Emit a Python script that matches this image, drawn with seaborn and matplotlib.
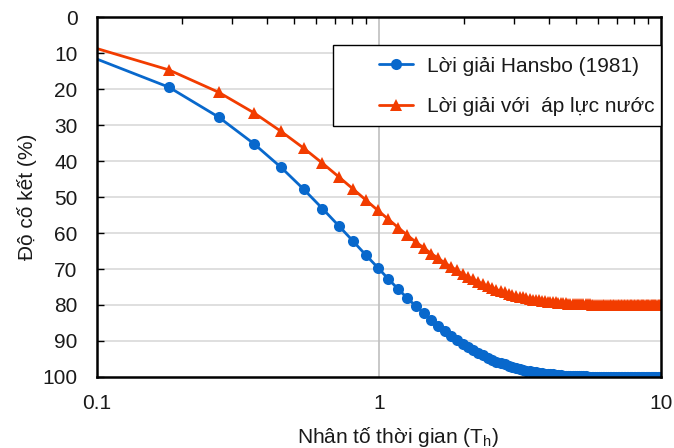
import numpy as np
import pandas as pd
import matplotlib
matplotlib.use("Agg")
import matplotlib.pyplot as plt
import seaborn as sns
from matplotlib.ticker import FixedLocator, LogLocator, NullFormatter
from matplotlib.patches import Rectangle

# Time factor values (Th) at each marker
th = [round(0.09 * k, 2) for k in range(1, 112)]

hansbo = [10.3, 19.5, 27.8, 35.2, 41.8, 47.8, 53.2, 58.0, 62.3, 66.2,
          69.6, 72.8, 75.6, 78.1, 80.3, 82.3, 84.2, 85.8, 87.2, 88.5,
          89.7, 90.8, 91.7, 92.6, 93.3, 94.0, 94.6, 95.2, 95.7, 96.1,
          96.5, 96.9, 97.2, 97.5, 97.7, 98.0, 98.2, 98.4, 98.5, 98.7,
          98.8, 98.9, 99.1, 99.2, 99.2, 99.3, 99.4, 99.5, 99.5, 99.6,
          99.6, 99.6, 99.7, 99.7, 99.7, 99.8, 99.8, 99.8, 99.8, 99.8,
          99.9, 99.9, 99.9, 99.9, 99.9, 99.9, 99.9, 99.9, 99.9, 99.9,
          99.9, 99.9, 100.0, 100.0, 100.0, 100.0, 100.0, 100.0, 100.0, 100.0,
          100.0, 100.0, 100.0, 100.0, 100.0, 100.0, 100.0, 100.0, 100.0, 100.0,
          100.0, 100.0, 100.0, 100.0, 100.0, 100.0, 100.0, 100.0, 100.0, 100.0,
          100.0, 100.0, 100.0, 100.0, 100.0, 100.0, 100.0, 100.0, 100.0, 100.0,
          100.0]

water = [7.7, 14.7, 20.9, 26.6, 31.8, 36.4, 40.6, 44.4, 47.8, 50.9,
         53.7, 56.2, 58.5, 60.6, 62.5, 64.1, 65.7, 67.0, 68.3, 69.4,
         70.4, 71.4, 72.2, 72.9, 73.6, 74.2, 74.8, 75.3, 75.7, 76.2,
         76.5, 76.9, 77.2, 77.4, 77.7, 77.9, 78.1, 78.3, 78.5, 78.6,
         78.7, 78.9, 79.0, 79.1, 79.2, 79.2, 79.3, 79.4, 79.4, 79.5,
         79.5, 79.6, 79.6, 79.7, 79.7, 79.7, 79.8, 79.8, 79.8, 79.8,
         79.8, 79.8, 79.9, 79.9, 79.9, 79.9, 79.9, 79.9, 79.9, 79.9,
         79.9, 79.9, 79.9, 79.9, 79.9, 80.0, 80.0, 80.0, 80.0, 80.0,
         80.0, 80.0, 80.0, 80.0, 80.0, 80.0, 80.0, 80.0, 80.0, 80.0,
         80.0, 80.0, 80.0, 80.0, 80.0, 80.0, 80.0, 80.0, 80.0, 80.0,
         80.0, 80.0, 80.0, 80.0, 80.0, 80.0, 80.0, 80.0, 80.0, 80.0,
         80.0]

series_names = ["Lời giải Hansbo (1981)", "Lời giải với  áp lực nước"]
x_ticks = [0.1, 1, 10]
x_ticklabels = ["0.1", "1", "10"]
y_ticks = list(range(0, 101, 10))

sns.set_theme(style="white")
plt.rcParams['font.family'] = ['Liberation Sans', 'DejaVu Sans']

FS = 15
TXT = "#1a1a1a"

fig = plt.figure(figsize=(6.74, 4.48), dpi=100)
ax = fig.add_axes([0.1439, 0.1585, 0.8368, 0.8035])

blue = "#0868CC"
orange = "#F23C00"

sns.lineplot(x=th, y=hansbo, ax=ax, color=blue, marker="o", markersize=8,
             markeredgewidth=0, linewidth=2.0, label=series_names[0], sort=False)
sns.lineplot(x=th, y=water, ax=ax, color=orange, marker="^", markersize=8.5,
             markeredgewidth=0, linewidth=2.0, label=series_names[1], sort=False)

ax.set_xscale("log")
ax.set_xlim(0.1, 10)
ax.set_ylim(100, 0)

# grid
for yv in y_ticks[1:-1]:
    ax.axhline(yv, color="#D9D9D9", linewidth=1.2, zorder=0)
ax.axvline(1, color="#BFBFBF", linewidth=1.2, zorder=0)

ax.xaxis.set_major_locator(FixedLocator(x_ticks))
ax.set_xticklabels(x_ticklabels)
ax.xaxis.set_minor_locator(LogLocator(base=10, subs=np.arange(2, 10)))
ax.xaxis.set_minor_formatter(NullFormatter())
ax.tick_params(axis="x", which="major", bottom=False, top=False, labelsize=FS, pad=6, labelcolor=TXT)
ax.tick_params(axis="x", which="minor", bottom=False, top=True, direction="in", length=5, width=1, color="black")
ax.set_yticks(y_ticks)
ax.tick_params(axis="y", left=True, direction="in", length=5, width=1, color="black",
               labelsize=FS, pad=14, labelcolor=TXT)

for s in ax.spines.values():
    s.set_color("black")
    s.set_linewidth(1.8)
    s.set_visible(True)

ax.set_xlabel("Nhân tố thời gian (T$_\\mathregular{h}$)", fontsize=FS, color=TXT)
ax.xaxis.set_label_coords(0.534, -0.168)
ax.xaxis.label.set_va("center")
ax.set_ylabel("Độ cố kết (%)", fontsize=FS, color=TXT)
ax.yaxis.set_label_coords(-0.124, 0.5)
ax.yaxis.label.set_va("center")

# legend box
rect = Rectangle((0.418, 0.697), 0.582, 0.225, transform=ax.transAxes,
                 facecolor="white", edgecolor="black", linewidth=1.0, zorder=4.5,
                 clip_on=False)
ax.add_patch(rect)

leg = ax.legend(loc="upper left", bbox_to_anchor=(0.5, 0.890), fontsize=FS,
                frameon=False, borderpad=0, handlelength=1.65, handletextpad=0.65,
                labelspacing=1.05, borderaxespad=0)
leg.set_zorder(5)
for t in leg.get_texts():
    t.set_color(TXT)

fig.savefig("out.png", dpi=100)
